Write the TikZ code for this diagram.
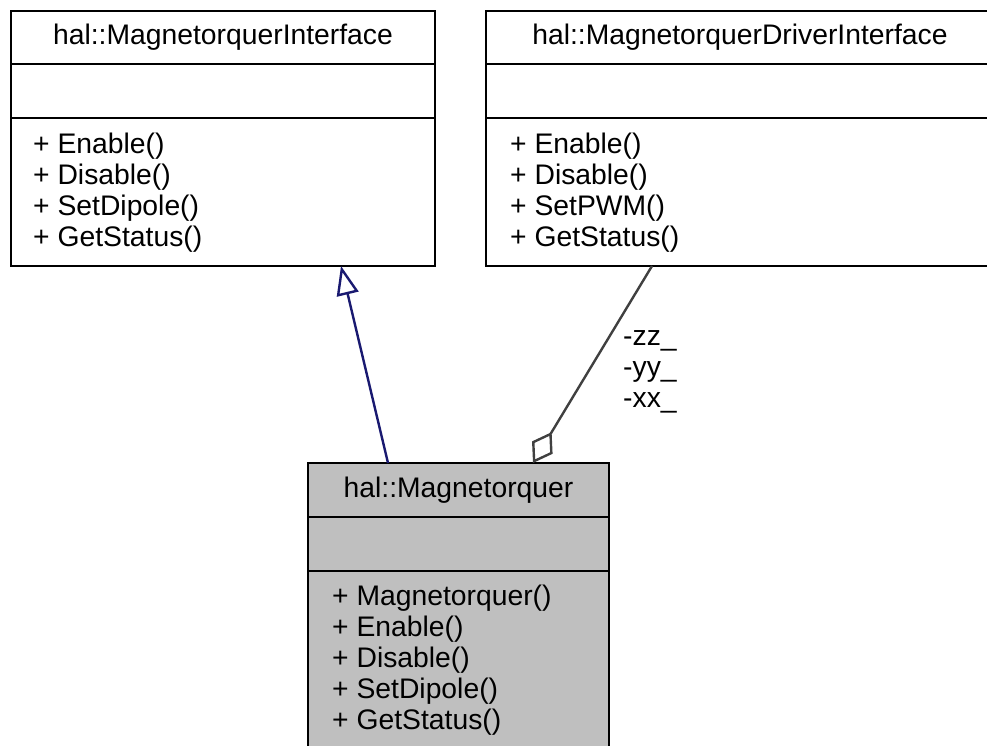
\documentclass[tikz,border=0pt]{standalone}
\usepackage{fontspec}
\setmainfont{Liberation Sans}
\usetikzlibrary{arrows.meta}
\definecolor{inheritblue}{HTML}{191970}
\definecolor{aggrgray}{HTML}{404040}
\definecolor{classfill}{HTML}{BFBFBF}
\newcommand{\umlfont}{\fontsize{28.3}{31}\selectfont}
\begin{document}
\begin{tikzpicture}[x=1pt,y=-1pt,
  classbox/.style={draw=black, line width=2.6pt, rectangle, anchor=north west, inner sep=0pt, outer sep=0pt},
  divider/.style={draw=black, line width=2.6pt},
  classtitle/.style={anchor=base, inner sep=0pt, font=\umlfont},
  members/.style={anchor=base west, align=left, inner sep=0pt, font=\umlfont},
  inherit/.style={draw=inheritblue, line width=2.4pt, -{Triangle[open, length=29pt, width=22pt]}},
  aggregate/.style={draw=aggrgray, line width=2.4pt, -{Diamond[open, length=36pt, width=24pt]}}]
\useasboundingbox (0,0) rectangle (987,746);

% hal::MagnetorquerInterface
\node[classbox, minimum width=424pt, minimum height=255pt] (ifc) at (11,11) {};
\draw[divider] (11,64) -- (435,64);
\draw[divider] (11,118) -- (435,118);
\node[classtitle] (ifcT) at (223,45) {hal::MagnetorquerInterface};
% member lists are placed by the baseline of their last line
\node[members] (ifcM) at (33,246) {+ Enable()\\+ Disable()\\+ SetDipole()\\+ GetStatus()};

% hal::MagnetorquerDriverInterface
\node[classbox, minimum width=508pt, minimum height=255pt] (drv) at (486,11) {};
\draw[divider] (486,64) -- (994,64);
\draw[divider] (486,118) -- (994,118);
\node[classtitle] (drvT) at (740,45) {hal::MagnetorquerDriverInterface};
\node[members] (drvM) at (510,246) {+ Enable()\\+ Disable()\\+ SetPWM()\\+ GetStatus()};

% hal::Magnetorquer
\node[classbox, fill=classfill, minimum width=301pt, minimum height=288pt] (mtq) at (308,463) {};
\draw[divider] (308,517) -- (609,517);
\draw[divider] (308,571) -- (609,571);
\node[classtitle] (mtqT) at (458.5,497) {hal::Magnetorquer};
\node[members] (mtqM) at (332,729) {+ Magnetorquer()\\+ Enable()\\+ Disable()\\+ SetDipole()\\+ GetStatus()};

% connector end points on the box edges
\path (mtq.north west) ++(80,0) coordinate (mtqIn);
\path (ifc.south west) ++(330,0) coordinate (ifcIn);
\path (drv.south west) ++(166,0) coordinate (drvOut);
\path (mtq.north west) ++(225,0) coordinate (mtqAg);

% generalization
\draw[inherit] (mtqIn) -- (ifcIn);
% aggregation
\draw[aggregate] (drvOut) -- (mtqAg);
\node[members] (aggLbl) at (623,407) {-zz\_\\-yy\_\\-xx\_};
\end{tikzpicture}
\end{document}
